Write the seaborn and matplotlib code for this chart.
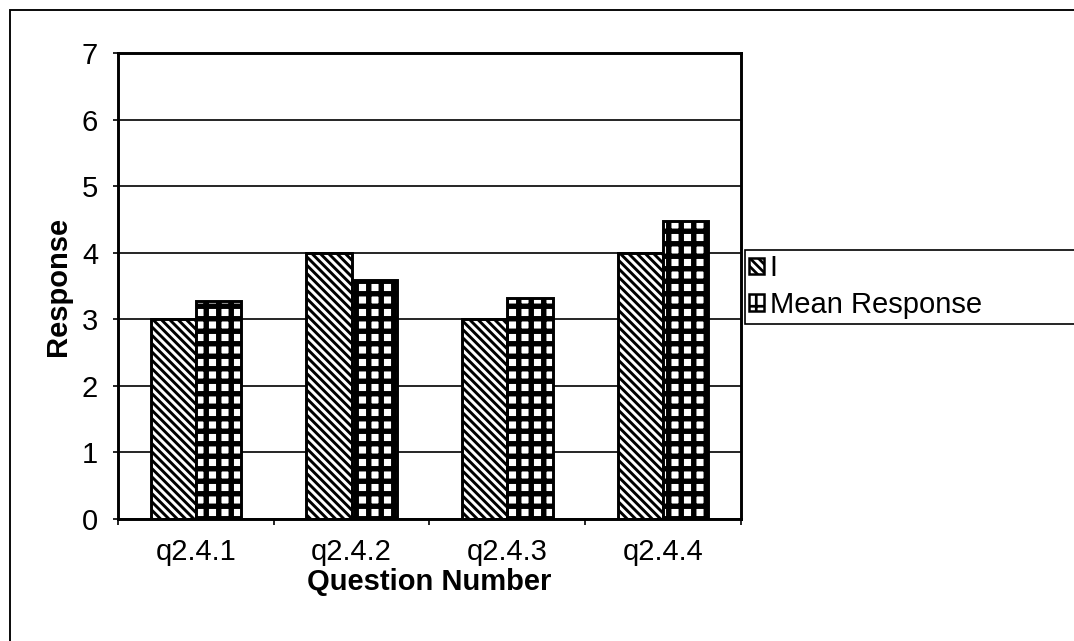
import pandas as pd
import seaborn as sns
import matplotlib.pyplot as plt
from matplotlib.patches import Patch, Rectangle
from matplotlib.ticker import FixedLocator

# data
questions = ["q2.4.1", "q2.4.2", "q2.4.3", "q2.4.4"]
i_values = [3, 4, 3, 4]
mean_values = [3.28, 3.59, 3.32, 4.47]
series_names = ["I", "Mean Response"]
y_ticks = [0, 1, 2, 3, 4, 5, 6, 7]

df = pd.DataFrame({
    "Question": questions * 2,
    "Response": i_values + mean_values,
    "Series": [series_names[0]] * len(questions) + [series_names[1]] * len(questions),
})

sns.set_style("white")
plt.rcParams["font.family"] = ["Liberation Sans", "DejaVu Sans"]
plt.rcParams["text.color"] = "black"
plt.rcParams["axes.labelcolor"] = "black"
plt.rcParams["hatch.linewidth"] = 1.3

hatches = ["\\" * 6, "++"]
hatch_lw = [1.4, 2.6]

fig = plt.figure(figsize=(1074 / 150, 641 / 150), dpi=150)
ax = fig.add_axes([118 / 1074, 1 - 519 / 641, (741 - 118) / 1074, (519 - 53) / 641])

sns.barplot(data=df, x="Question", y="Response", hue="Series",
            palette=["white", "white"], edgecolor="black", linewidth=1.4,
            width=0.58, gap=0, legend=False, ax=ax)

for cont, h, lw in zip(ax.containers, hatches, hatch_lw):
    for p in cont:
        p.set_hatch(h)
        if hasattr(p, "set_hatch_linewidth"):
            p.set_hatch_linewidth(lw)

ax.set_ylim(0, 7)
ax.set_xlim(-0.5, 3.5)
ax.set_yticks(y_ticks)
ax.yaxis.grid(True, color="black", linewidth=0.8)
ax.set_axisbelow(True)
for s in ax.spines.values():
    s.set_visible(True)
    s.set_color("black")
    s.set_linewidth(1.4)

ax.xaxis.set_minor_locator(FixedLocator([-0.5, 0.5, 1.5, 2.5, 3.5]))
ax.tick_params(axis="x", which="major", length=0, pad=9, labelsize=14, labelcolor="black")
ax.tick_params(axis="x", which="minor", length=3, width=0.8, direction="out", color="black", bottom=True)
ax.tick_params(axis="y", length=2.5, width=0.8, direction="out", pad=7, labelsize=14,
               labelcolor="black", color="black", left=True)

ax.set_xlabel("Question Number", fontsize=14, fontweight="bold", labelpad=1)
ax.set_ylabel("Response", fontsize=14, fontweight="bold", labelpad=5)

handles = [Patch(facecolor="white", edgecolor="black", hatch=h, linewidth=1.2) for h in hatches]
leg = fig.legend(handles, series_names, loc="upper left",
                 bbox_to_anchor=(745 / 1074, 1 - 320 / 641, 0.35, 70 / 641), mode="expand",
                 fontsize=14, frameon=True, fancybox=False, edgecolor="black", framealpha=1,
                 handlelength=0.5, handleheight=0.5, handletextpad=0.2, borderaxespad=0,
                 borderpad=0.15, labelspacing=0.3)
leg.get_frame().set_linewidth(0.8)

# outer chart border (right and bottom are cut off in the scan)
fig.patches.append(Rectangle((10 / 1074, -1), 2, 1 - 10 / 641 + 1, transform=fig.transFigure,
                             fill=False, edgecolor="black", linewidth=0.9))

fig.savefig("out.png", dpi=150)
